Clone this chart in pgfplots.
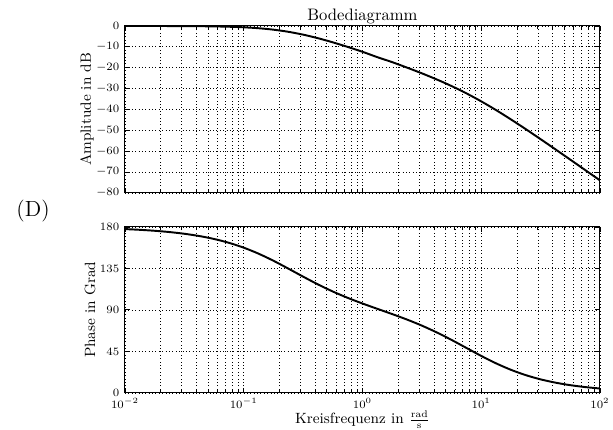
\documentclass[border=0pt]{standalone}
\usepackage{pgfplots}
\usepackage{pgfplotstable}
\pgfplotsset{compat=1.18}

% omega [rad/s], amplitude [dB], phase [deg]
\pgfplotstableread{
w        mag      phase
0.01     -0.007   177.64
0.013335 -0.012   176.85
0.017783 -0.022   175.80
0.023714 -0.039   174.41
0.031623 -0.069   172.57
0.04217  -0.122   170.12
0.056234 -0.215   166.92
0.074989 -0.375   162.77
0.1      -0.645   157.48
0.13335  -1.088   150.97
0.17783  -1.779   143.31
0.23714  -2.790   134.81
0.31623  -4.156   126.07
0.4217   -5.861   117.65
0.56234  -7.846   109.95
0.74989  -10.037  103.09
1        -12.371   96.92
1.3335   -14.955   91.16
1.7783   -17.336   85.47
2.3714   -19.956   79.51
3.1623   -22.699   72.95
4.217    -25.622   65.59
5.6234   -28.794   57.45
7.4989   -32.284   48.76
10       -36.131   40.09
13.335   -40.316   32.03
17.783   -44.781   25.03
23.714   -49.448   19.24
31.623   -54.250   14.65
42.17    -59.133   11.08
56.234   -64.066    8.35
74.989   -69.028    6.28
100      -74.007    4.71
}\bode

\pgfplotsset{
    every axis/.append style={
        scale only axis,
        width=294.5pt,
        grid=both,
        major grid style={black, line width=0.4pt, dash pattern=on 0.5pt off 1.6pt},
        minor grid style={black, line width=0.4pt, dash pattern=on 0.5pt off 1.6pt},
        axis line style={black, line width=0.6pt},
        tick style={black, line width=0.5pt},
        major tick length=3pt,
        minor tick length=2pt,
        tick label style={font=\fontsize{7.4}{9}\selectfont},
        label style={font=\fontsize{9.2}{11}\selectfont},
    },
}

\begin{document}
\begin{tikzpicture}
    \path[use as bounding box] (-77.5pt,16.1pt) rectangle (302.6pt,-250.5pt);

    % amplitude
    \begin{semilogxaxis}[
        at={(0pt,0pt)}, anchor=north west,
        height=103.5pt,
        xmin=0.01, xmax=100,
        xtick={0.01,0.1,1,10,100},
        ymin=-80, ymax=0,
        ytick={-80,-70,...,0},
        xticklabels={},
        ylabel={Amplitude in dB},
        ylabel style={at={(axis description cs:-0.0801,0.5)}, anchor=center},
        title={Bodediagramm},
        every axis title shift=0pt,
        title style={at={(axis description cs:0.5,1)}, anchor=base,
            yshift=3.3pt, font=\fontsize{10.3}{12}\selectfont},
    ]
        \addplot[black, line width=1.2pt, smooth, no marks] table[x=w, y=mag] {\bode};
    \end{semilogxaxis}

    % phase
    \begin{semilogxaxis}[
        at={(0pt,-124.6pt)}, anchor=north west,
        height=102.9pt,
        xmin=0.01, xmax=100,
        xtick={0.01,0.1,1,10,100},
        ymin=0, ymax=180,
        ytick={0,45,90,135,180},
        ylabel={Phase in Grad},
        ylabel style={at={(axis description cs:-0.0737,0.5)}, anchor=center},
        xlabel={Kreisfrequenz in $\frac{\mathrm{rad}}{\mathrm{s}}$},
        xlabel style={at={(axis description cs:0.5,0)}, anchor=center, yshift=-16.8pt},
    ]
        \addplot[black, line width=1.2pt, smooth, no marks] table[x=w, y=phase] {\bode};
    \end{semilogxaxis}

    \node[font=\fontsize{13.6}{16}\selectfont] at (-57pt,-114.7pt) {(D)};
\end{tikzpicture}
\end{document}
